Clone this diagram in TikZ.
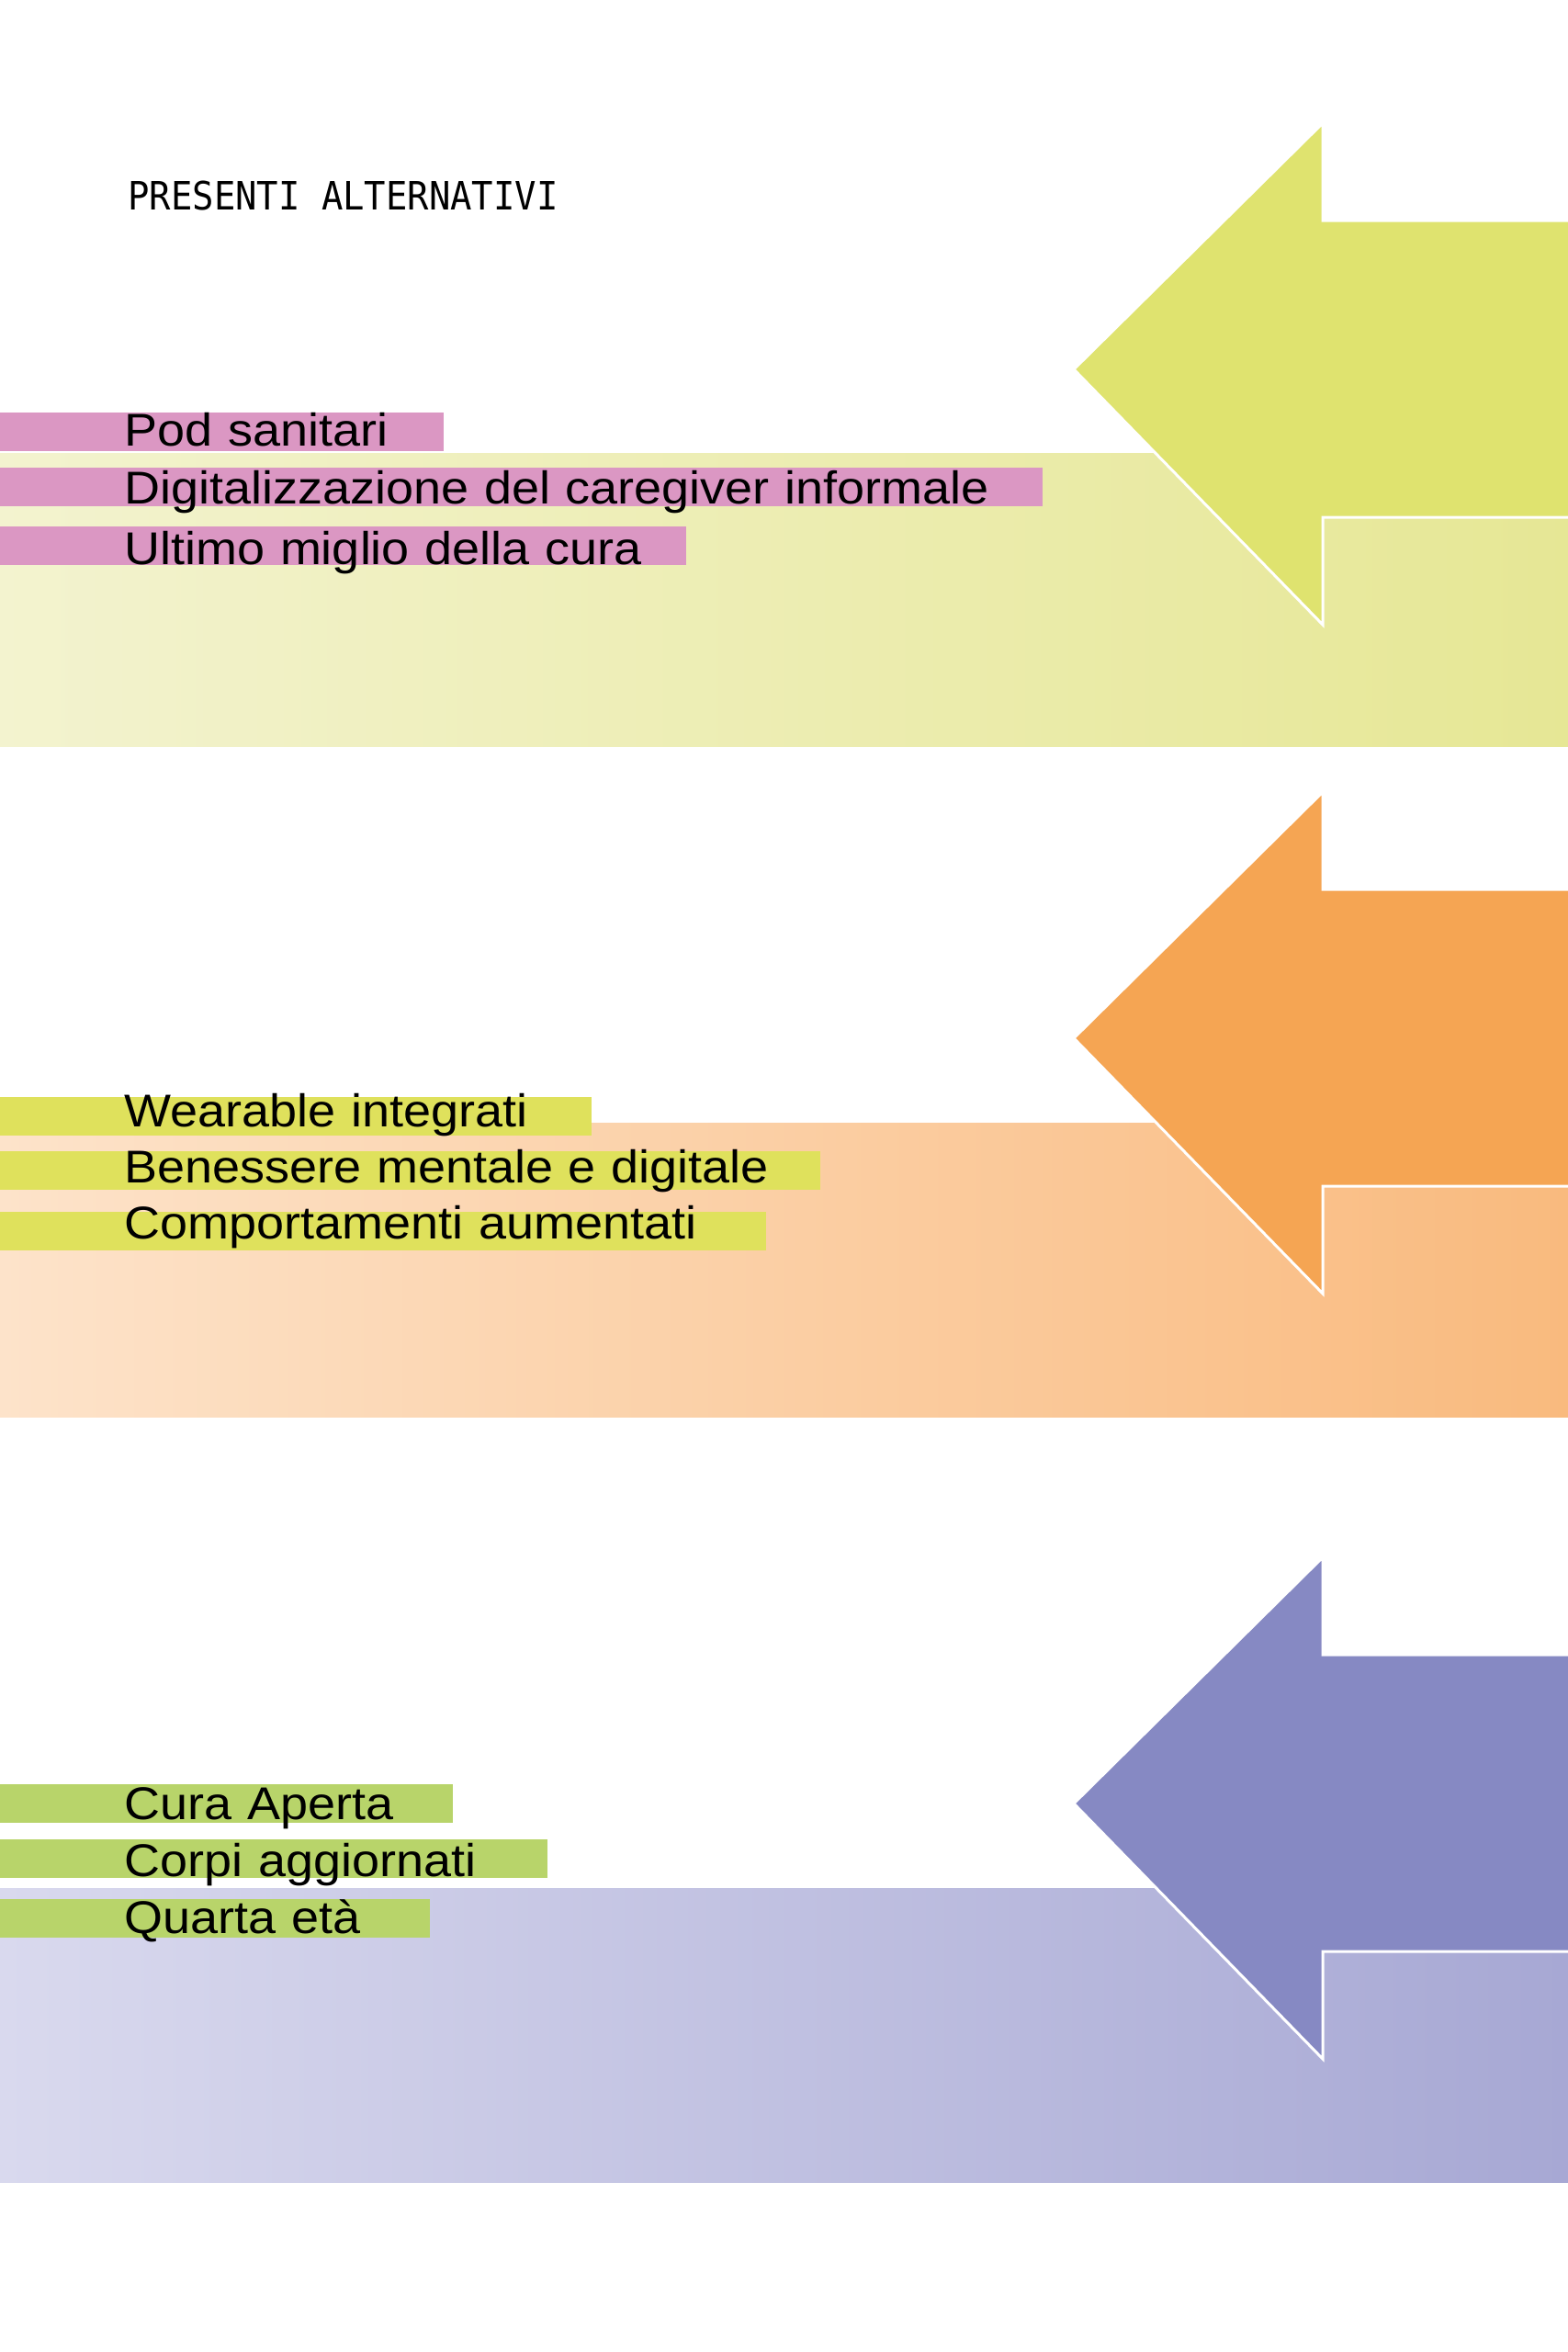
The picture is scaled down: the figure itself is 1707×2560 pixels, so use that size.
\documentclass[tikz,border=0pt]{standalone}
\usepackage{fontspec}
\setmainfont{Liberation Sans}[FakeStretch=1.08]
\newfontfamily\monofont{DejaVu Sans Mono}[FakeStretch=0.915]

\definecolor{bandAl}{HTML}{F3F3CF}
\definecolor{bandAr}{HTML}{E6E795}
\definecolor{arrowA}{HTML}{DFE36F}
\definecolor{tagpink}{HTML}{DB97C3}
\definecolor{bandBl}{HTML}{FDE3CA}
\definecolor{bandBr}{HTML}{F9BA7E}
\definecolor{arrowB}{HTML}{F5A553}
\definecolor{tagyellow}{HTML}{DFE15C}
\definecolor{bandCl}{HTML}{D9D9EE}
\definecolor{bandCr}{HTML}{A7A8D4}
\definecolor{arrowC}{HTML}{8689C3}
\definecolor{taggreen}{HTML}{B8D46A}

\tikzset{
  pointer/.style={draw=white,line width=1.5pt,line join=miter},
  tag/.style n args={3}{anchor=north west,inner xsep=0pt,inner ysep=0pt,
    text width=#1,text height=#2,text depth=#3,align=left,
    font=\fontsize{25}{30}\selectfont,
    execute at begin node=\hspace*{67.5pt}},
  heading/.style={anchor=base west,inner sep=0pt,font=\monofont\fontsize{21.25}{26}\selectfont},
}

\begin{document}
\begin{tikzpicture}[x=0.5pt,y=-0.5pt]
  \useasboundingbox (0,0) rectangle (1707,2560);
  \fill[white] (0,0) rectangle (1707,2560);

  \node[heading] (title) at (139,228) {PRESENTI ALTERNATIVI};

  % first block
  \shade[left color=bandAl,right color=bandAr] (0,493) rectangle (1707,812);
  \filldraw[pointer,fill=arrowA] (1720,240) -- (1440,240) -- (1440,134) -- (1169,402)
    -- (1440,680) -- (1440,563) -- (1720,563) -- cycle;
  \node[tag={241.5pt}{18pt}{3pt},fill=tagpink] (pod) at (0,449) {Pod sanitari};
  \node[tag={567.5pt}{20pt}{1pt},fill=tagpink] (caregiver) at (0,508.5) {Digitalizzazione del caregiver informale};
  \node[tag={373.5pt}{20.5pt}{0.5pt},fill=tagpink] (miglio) at (0,573) {Ultimo miglio della cura};

  % second block
  \shade[left color=bandBl,right color=bandBr] (0,1222) rectangle (1707,1542);
  \filldraw[pointer,fill=arrowB] (1720,968) -- (1440,968) -- (1440,862) -- (1169,1130)
    -- (1440,1408) -- (1440,1291) -- (1720,1291) -- cycle;
  \node[tag={322pt}{16pt}{5pt},fill=tagyellow] (wearable) at (0,1194) {Wearable integrati};
  \node[tag={446.5pt}{17pt}{4pt},fill=tagyellow] (benessere) at (0,1253) {Benessere mentale e digitale};
  \node[tag={417pt}{15pt}{6pt},fill=tagyellow] (comportamenti) at (0,1318.5) {Comportamenti aumentati};

  % third block
  \shade[left color=bandCl,right color=bandCr] (0,2055) rectangle (1707,2375);
  \filldraw[pointer,fill=arrowC] (1720,1801) -- (1440,1801) -- (1440,1695) -- (1169,1963)
    -- (1440,2241) -- (1440,2124) -- (1720,2124) -- cycle;
  \node[tag={246.5pt}{19.25pt}{1.75pt},fill=taggreen] (aperta) at (0,1942) {Cura Aperta};
  \node[tag={298pt}{20pt}{1pt},fill=taggreen] (corpi) at (0,2002) {Corpi aggiornati};
  \node[tag={234pt}{18.5pt}{2.5pt},fill=taggreen] (quarta) at (0,2067) {Quarta età};
\end{tikzpicture}
\end{document}
